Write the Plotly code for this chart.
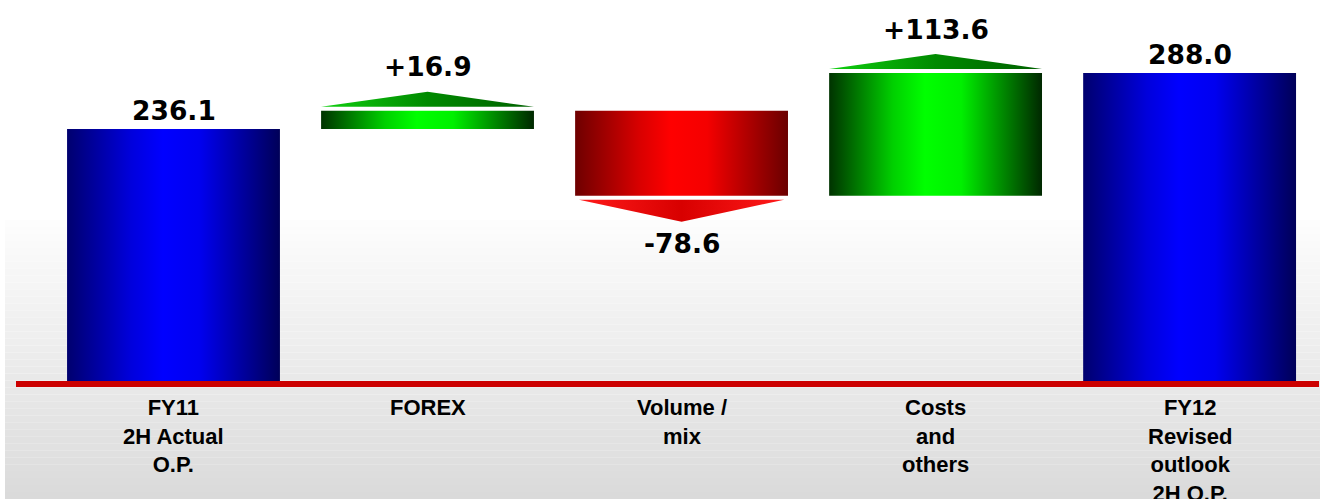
import plotly.graph_objects as go

# ---- data -------------------------------------------------------------
categories = ["FY11<br>2H Actual<br>O.P.", "FOREX", "Volume /<br>mix",
              "Costs<br>and<br>others", "FY12<br>Revised<br>outlook<br>2H O.P."]
values = [236.1, 16.9, -78.6, 113.6, 288.0]
kinds = ["total", "delta", "delta", "delta", "total"]

# ---- geometry / style -------------------------------------------------
W, H = 1325, 499
MARGIN_B = 115
PLOT_H = H - MARGIN_B
Y_MAX = 355.6
X_RANGE = [-0.683, 4.533]
PX = PLOT_H / Y_MAX          # pixels per data unit
HALF_W = 0.419               # half bar width in category units

GAP = 4 / PX                 # white gap between arrow and bar
ARROW_UP_H = 15 / PX
ARROW_DOWN_H = 22 / PX

FONT_LABEL = "Liberation Sans, Arial, sans-serif"
FONT_VALUE = "DejaVu Sans, Verdana, sans-serif"

SCALE_BLUE = [[0, "#00006e"], [0.3, "#0000dc"], [0.45, "#0000ff"],
              [0.62, "#0000f0"], [1, "#000058"]]
SCALE_GREEN = [[0, "#003300"], [0.3, "#00d000"], [0.45, "#00ff00"],
               [0.62, "#00f000"], [1, "#002800"]]
SCALE_RED = [[0, "#6e0000"], [0.3, "#d80000"], [0.45, "#ff0000"],
             [0.62, "#f50000"], [1, "#6a0000"]]
ARROW_GREEN = [[0, "#10d010"], [0.5, "#008a00"], [1, "#006000"]]
ARROW_RED = [[0, "#ff1a1a"], [0.5, "#d80000"], [1, "#ff1a1a"]]

fig = go.Figure()


def poly(xs, ys, scale):
    fig.add_trace(go.Scatter(
        x=xs, y=ys, mode="lines", fill="toself",
        line=dict(width=0, color="rgba(0,0,0,0)"),
        fillgradient=dict(type="horizontal", colorscale=scale),
        hoverinfo="skip", showlegend=False))


annotations = []
running = 0.0
for i, (v, k) in enumerate(zip(values, kinds)):
    x0, x1 = i - HALF_W, i + HALF_W
    if k == "total":
        lo, hi = 0.0, v
        running = v
        poly([x0, x1, x1, x0, x0], [lo, lo, hi, hi, lo], SCALE_BLUE)
        annotations.append(dict(x=i, y=hi, text=f"{v:.1f}", yanchor="middle",
                                yshift=19))
    else:
        start, end = running, running + v
        running = end
        lo, hi = min(start, end), max(start, end)
        if v >= 0:
            poly([x0, x1, x1, x0, x0], [lo, lo, hi, hi, lo], SCALE_GREEN)
            b = hi + GAP
            apex = b + ARROW_UP_H
            poly([x0, x1, i, x0], [b, b, apex, b], ARROW_GREEN)
            annotations.append(dict(x=i, y=apex, text=f"+{v:.1f}",
                                    yanchor="middle", yshift=25))
        else:
            poly([x0, x1, x1, x0, x0], [lo, lo, hi, hi, lo], SCALE_RED)
            b = lo - GAP
            apex = b - ARROW_DOWN_H
            poly([x0 + 0.015, x1 - 0.015, i, x0 + 0.015], [b, b, apex, b],
                 ARROW_RED)
            annotations.append(dict(x=i, y=apex, text=f"{v:.1f}",
                                    yanchor="middle", yshift=-22))

for a in annotations:
    a.update(xref="x", yref="y", showarrow=False,
             font=dict(family=FONT_VALUE, size=26.5, color="#000000",
                       weight="bold"))

# category labels below the baseline
for i, c in enumerate(categories):
    annotations.append(dict(
        x=i, y=0, xref="x", yref="y", text=c, showarrow=False,
        yanchor="top", yshift=-9, align="center",
        font=dict(family=FONT_LABEL, size=22, color="#000000",
                  weight="bold")))

# soft grey backdrop fading in toward the bottom
shapes = []
top_px, bot_px = 220, H
n = 40
for j in range(n):
    p0 = top_px + (bot_px - top_px) * j / n
    p1 = top_px + (bot_px - top_px) * (j + 1) / n
    g = round(253 - ((p0 + p1) / 2 - top_px) * 35 / (bot_px - top_px))
    shapes.append(dict(
        type="rect", xref="paper", yref="paper", layer="below",
        x0=5 / W, x1=1320 / W,
        y0=(PLOT_H - p1) / PLOT_H, y1=(PLOT_H - p0) / PLOT_H,
        fillcolor=f"rgb({g},{g},{g})", line=dict(width=0)))

# red baseline (paper-referenced so it is not clipped at the plot edge)
shapes.append(dict(type="line", xref="paper", yref="paper", layer="above",
                   x0=16 / W, x1=1319 / W, y0=0, y1=0,
                   line=dict(color="#cc0000", width=6)))

fig.update_layout(
    width=W, height=H, autosize=False,
    margin=dict(l=0, r=0, t=0, b=MARGIN_B, pad=0),
    paper_bgcolor="#ffffff", plot_bgcolor="rgba(0,0,0,0)",
    xaxis=dict(range=X_RANGE, visible=False, fixedrange=True),
    yaxis=dict(range=[0, Y_MAX], visible=False, fixedrange=True),
    showlegend=False, shapes=shapes, annotations=annotations,
)

fig.write_html("out.html")
